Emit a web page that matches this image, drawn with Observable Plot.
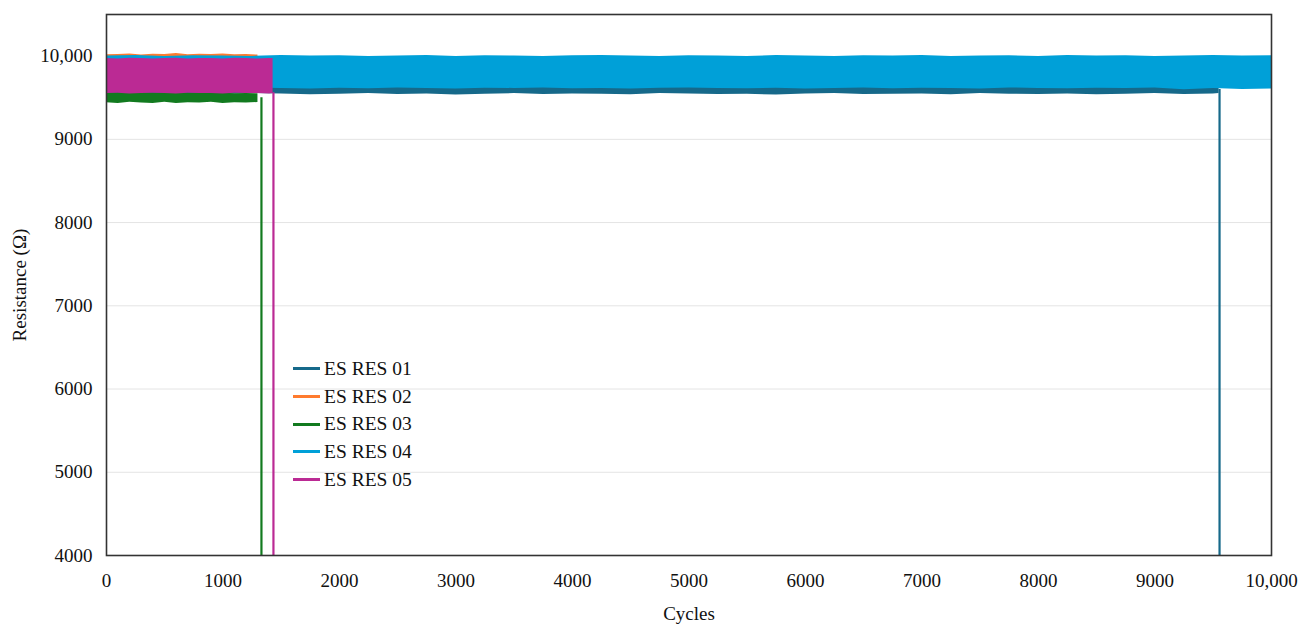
<!DOCTYPE html>
<html>
<head>
<meta charset="utf-8">
<script src="https://cdn.jsdelivr.net/npm/d3@7"></script>
<script src="https://cdn.jsdelivr.net/npm/@observablehq/plot@0.6"></script>
<style>
  body { margin: 0; background: #fff; }
  #wrap { position: relative; width: 1308px; height: 636px; font-family: "Liberation Serif", serif; }
  #legend { position: absolute; left: 293px; top: 355px; font-size: 19.5px; color: #111; }
  #legend .item { display: flex; align-items: center; height: 27.7px; }
  #legend .sw { width: 27px; height: 3px; margin-right: 4px; }
</style>
</head>
<body>
<div id="wrap"><div id="legend"></div></div>
<script>
const seriesNames = ["ES RES 01", "ES RES 02", "ES RES 03", "ES RES 04", "ES RES 05"];
const seriesColors = ["#16698a", "#ff7b2e", "#127a1f", "#00a0d8", "#bb2a94"];

const xTicks = [0, 1000, 2000, 3000, 4000, 5000, 6000, 7000, 8000, 9000, 10000];
const yTicks = [4000, 5000, 6000, 7000, 8000, 9000, 10000];

// ES RES 01 envelope (min / max of the oscillation)
const cycles01 = [0,250,500,750,1000,1250,1500,1750,2000,2250,2500,2750,3000,3250,3500,3750,4000,4250,4500,4750,5000,5250,5500,5750,6000,6250,6500,6750,7000,7250,7500,7750,8000,8250,8500,8750,9000,9250,9500,9550];
const lo01 = [9545,9538,9550,9542,9540,9552,9545,9536,9542,9550,9538,9545,9532,9542,9550,9538,9545,9542,9536,9550,9545,9538,9542,9532,9545,9550,9538,9542,9545,9536,9550,9542,9538,9545,9536,9542,9550,9538,9545,9550];
const hi01 = [9990,9995,9990,9985,9995,9990,9990,9995,9985,9990,9995,9990,9990,9985,9995,9990,9990,9995,9990,9985,9990,9995,9990,9990,9985,9995,9990,9990,9995,9990,9985,9990,9995,9990,9990,9985,9995,9990,9990,9990];

// ES RES 02
const cycles02 = [0,100,200,300,400,500,600,700,800,900,1000,1100,1200,1300];
const lo02 = [9960,9965,9960,9955,9965,9960,9960,9965,9955,9960,9965,9960,9960,9960];
const hi02 = [10015,10018,10026,10014,10022,10018,10030,10015,10022,10018,10026,10015,10020,10012];

// ES RES 03
const cycles03 = [0,100,200,300,400,500,600,700,800,900,1000,1100,1200,1300];
const lo03 = [9440,9430,9445,9438,9432,9445,9430,9440,9436,9445,9432,9440,9436,9442];
const hi03 = [9555,9560,9552,9562,9555,9552,9560,9555,9552,9560,9555,9548,9552,9548];

// ES RES 04
const cycles04 = [0,250,500,750,1000,1250,1500,1750,2000,2250,2500,2750,3000,3250,3500,3750,4000,4250,4500,4750,5000,5250,5500,5750,6000,6250,6500,6750,7000,7250,7500,7750,8000,8250,8500,8750,9000,9250,9500,9750,10000];
const lo04 = [9612,9618,9608,9615,9605,9618,9612,9605,9615,9608,9618,9612,9605,9615,9612,9618,9608,9612,9605,9615,9618,9612,9608,9615,9605,9612,9618,9608,9615,9612,9605,9618,9612,9608,9615,9612,9618,9595,9610,9598,9605];
const hi04 = [10000,10008,9996,10004,10000,9996,10008,10000,10004,9996,10000,10008,9996,10004,10000,9994,10004,10008,10000,9996,10004,10000,9994,10008,10000,9996,10004,10000,10008,9996,10000,10004,9996,10008,10000,10004,9996,10000,10008,10000,10004];

// ES RES 05
const cycles05 = [0,100,200,300,400,500,600,700,800,900,1000,1100,1200,1300,1400,1430];
const lo05 = [9550,9555,9545,9550,9555,9550,9545,9555,9550,9550,9545,9555,9550,9550,9545,9550];
const hi05 = [9970,9965,9975,9970,9965,9970,9975,9965,9970,9970,9965,9975,9970,9965,9970,9970];

// failure drops: cycle at which each specimen failed, and the value it dropped from
const failNames = ["ES RES 01", "ES RES 03", "ES RES 05"];
const failCycles = [9554, 1330, 1433];
const failFrom = [9600, 9500, 9560];

const band = (name, cs, lo, hi) => cs.map((c, i) => ({name, c, lo: lo[i], hi: hi[i]}));
const bands = [
  band("ES RES 01", cycles01, lo01, hi01),
  band("ES RES 02", cycles02, lo02, hi02),
  band("ES RES 03", cycles03, lo03, hi03),
  band("ES RES 04", cycles04, lo04, hi04),
  band("ES RES 05", cycles05, lo05, hi05)
];
const drops = failNames.map((name, i) => ({name, c: failCycles[i], from: failFrom[i]}));
const colorOf = Object.fromEntries(seriesNames.map((n, i) => [n, seriesColors[i]]));

const fmt = d => d >= 10000 ? d3.format(",")(d) : String(d);

const marks = [
  Plot.gridY(yTicks.filter(t => t > 4000 && t < 10000), {stroke: "#e4e4e4", strokeOpacity: 1, strokeWidth: 1})
];
seriesNames.forEach((name, i) => {
  marks.push(Plot.areaY(bands[i], {x: "c", y1: "lo", y2: "hi", fill: colorOf[name], curve: "linear", clip: true}));
  const d = drops.filter(r => r.name === name);
  if (d.length) marks.push(Plot.ruleX(d, {x: "c", y1: "from", y2: 4000, stroke: colorOf[name], strokeWidth: 2.2, clip: true}));
});
marks.push(
  Plot.frame({stroke: "#333", strokeWidth: 1.6}),
  Plot.axisY({ticks: yTicks, tickSize: 0, tickPadding: 14, tickFormat: fmt, label: "Resistance (Ω)", labelAnchor: "center", labelArrow: "none", labelOffset: 94, fontSize: 19}),
  Plot.axisX({ticks: xTicks, tickSize: 0, tickPadding: 18, tickFormat: fmt, label: "Cycles", labelAnchor: "center", labelArrow: "none", labelOffset: 64, fontSize: 19})
);

const chart = Plot.plot({
  width: 1308,
  height: 636,
  marginLeft: 106,
  marginRight: 37,
  marginTop: 14,
  marginBottom: 81,
  style: {fontFamily: "'Liberation Serif', serif", fontSize: "19px", color: "#111", background: "#fff"},
  x: {domain: [0, 10000]},
  y: {domain: [4000, 10500]},
  marks
});
document.getElementById("wrap").prepend(chart);

const legend = document.getElementById("legend");
seriesNames.forEach((n, i) => {
  const item = document.createElement("div");
  item.className = "item";
  const sw = document.createElement("span");
  sw.className = "sw";
  sw.style.background = seriesColors[i];
  const t = document.createElement("span");
  t.textContent = n;
  item.append(sw, t);
  legend.append(item);
});
</script>
</body>
</html>
